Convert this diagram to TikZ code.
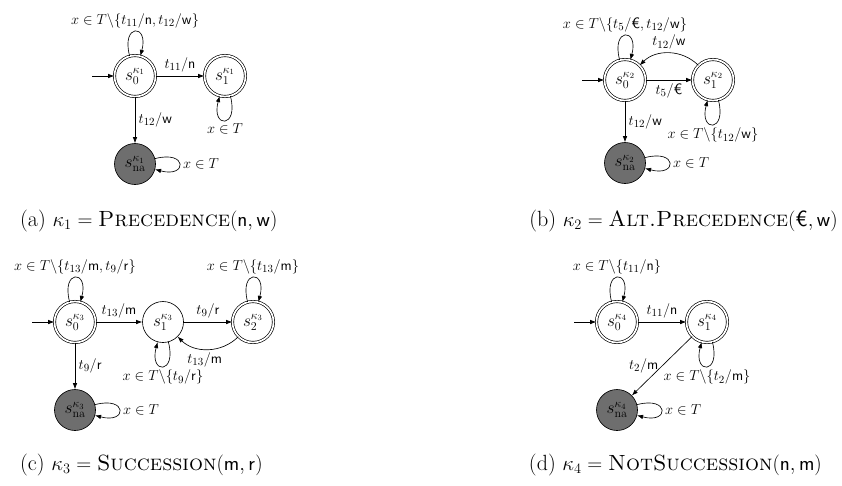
\documentclass[tikz,border=0pt]{standalone}
\usetikzlibrary{arrows.meta}
\definecolor{nagray}{RGB}{110,110,110}
\tikzset{
  every node/.style={font=\fontsize{15}{18}\selectfont},
  st/.style={circle, draw, line width=0.65pt, minimum size=41pt, inner sep=0pt, font=\fontsize{17}{20}\selectfont},
  acc/.style={st, double, double distance=1.7pt},
  nast/.style={st, fill=nagray},
  tr/.style={-{Latex[length=6pt,width=4.5pt]}, line width=0.65pt},
  capstyle/.style={font=\fontsize{22}{26}\selectfont, inner sep=0pt}
}
\begin{document}
\begin{tikzpicture}[x=1pt,y=-1pt]
\useasboundingbox (0,0) rectangle (842,485);
% (a)
\node[acc] (a0) at (135,76) {$s_0^{\kappa_1}$};
\node[acc] (a1) at (225,76) {$s_1^{\kappa_1}$};
\node[nast] (an) at (135,164) {$s_{\mathrm{na}}^{\kappa_1}$};
\coordinate (ai) at (92,76);
\draw[tr] (ai) -- (a0);
\draw[tr] (a0) to[loop above] node[above] {$x\in T\backslash\{t_{11}/\mathsf{n},t_{12}/\mathsf{w}\}$} (a0);
\draw[tr] (a0) -- node[above] {$t_{11}/\mathsf{n}$} (a1);
\draw[tr] (a0) -- node[right] {$t_{12}/\mathsf{w}$} (an);
\draw[tr] (a1) to[loop below] node[below] {$x\in T$} (a1);
\draw[tr] (an) to[loop right] node[right] {$x\in T$} (an);
\node[capstyle, anchor=base west] (capa) at (20,226) {(a) $\kappa_1=\textsc{Precedence}(\mathsf{n},\mathsf{w})$};
% (b)
\node[acc] (b0) at (625,80) {$s_0^{\kappa_2}$};
\node[acc] (b1) at (713,80) {$s_1^{\kappa_2}$};
\node[nast] (bn) at (625,163) {$s_{\mathrm{na}}^{\kappa_2}$};
\coordinate (bi) at (582,80);
\draw[tr] (bi) -- (b0);
\draw[tr] (b0) to[loop above] node[above] {$x\in T\backslash\{t_5/\textsf{€},t_{12}/\mathsf{w}\}$} (b0);
\draw[tr] (b0) -- node[below] {$t_5/\textsf{€}$} (b1);
\draw[tr] (b1) to[bend right=45] node[above] {$t_{12}/\mathsf{w}$} (b0);
\draw[tr] (b0) -- node[right] {$t_{12}/\mathsf{w}$} (bn);
\draw[tr] (b1) to[loop below] node[below] {$x\in T\backslash\{t_{12}/\mathsf{w}\}$} (b1);
\draw[tr] (bn) to[loop right] node[right] {$x\in T$} (bn);
\node[capstyle, anchor=base east] (capb) at (838,226) {(b) $\kappa_2=\textsc{Alt.Precedence}(\textsf{€},\mathsf{w})$};
% (c)
\node[acc] (c0) at (75,322) {$s_0^{\kappa_3}$};
\node[st] (c1) at (163,322) {$s_1^{\kappa_3}$};
\node[acc] (c2) at (253,322) {$s_2^{\kappa_3}$};
\node[nast] (cn) at (75,410) {$s_{\mathrm{na}}^{\kappa_3}$};
\coordinate (ci) at (32,322);
\draw[tr] (ci) -- (c0);
\draw[tr] (c0) to[loop above] node[above] {$x\in T\backslash\{t_{13}/\mathsf{m},t_9/\mathsf{r}\}$} (c0);
\draw[tr] (c2) to[loop above] node[above] {$x\in T\backslash\{t_{13}/\mathsf{m}\}$} (c2);
\draw[tr] (c1) to[loop below] node[below] {$x\in T\backslash\{t_9/\mathsf{r}\}$} (c1);
\draw[tr] (cn) to[loop right] node[right] {$x\in T$} (cn);
\draw[tr] (c0) -- node[above] {$t_{13}/\mathsf{m}$} (c1);
\draw[tr] (c1) -- node[above] {$t_9/\mathsf{r}$} (c2);
\draw[tr] (c2) to[bend left=45] node[below, pos=0.55] {$t_{13}/\mathsf{m}$} (c1);
\draw[tr] (c0) -- node[right] {$t_9/\mathsf{r}$} (cn);
\node[capstyle, anchor=base west] (capc) at (20,470) {(c) $\kappa_3=\textsc{Succession}(\mathsf{m},\mathsf{r})$};
% (d)
\node[acc] (d0) at (617,322) {$s_0^{\kappa_4}$};
\node[acc] (d1) at (707,322) {$s_1^{\kappa_4}$};
\node[nast] (dn) at (617,410) {$s_{\mathrm{na}}^{\kappa_4}$};
\coordinate (di) at (574,322);
\draw[tr] (di) -- (d0);
\draw[tr] (d0) to[loop above] node[above] {$x\in T\backslash\{t_{11}/\mathsf{n}\}$} (d0);
\draw[tr] (d0) -- node[above] {$t_{11}/\mathsf{n}$} (d1);
\draw[tr] (d1) -- node[left] {$t_2/\mathsf{m}$} (dn);
\draw[tr] (d1) to[loop below] node[below] {$x\in T\backslash\{t_2/\mathsf{m}\}$} (d1);
\draw[tr] (dn) to[loop right] node[right] {$x\in T$} (dn);
\node[capstyle, anchor=base east] (capd) at (822,470) {(d) $\kappa_4=\textsc{NotSuccession}(\mathsf{n},\mathsf{m})$};
\end{tikzpicture}
\end{document}
